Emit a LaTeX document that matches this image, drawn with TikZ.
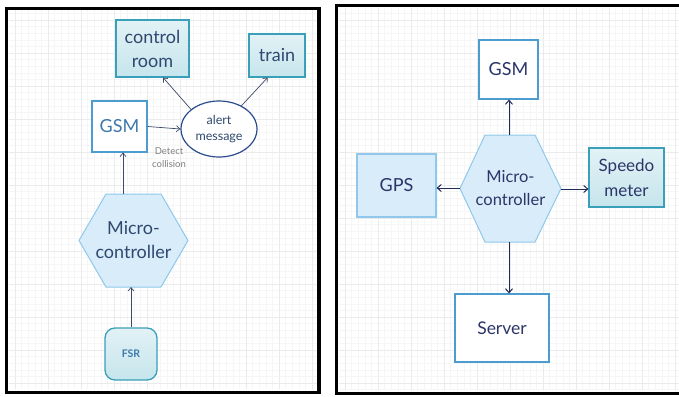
\documentclass[tikz,border=0pt]{standalone}
\usepackage{fontspec}
\setmainfont{Lato}
\usetikzlibrary{arrows.meta,shapes.geometric}
\definecolor{gminor}{HTML}{F6F6F6}
\definecolor{gmajor}{HTML}{EBEBEB}
\definecolor{tealline}{HTML}{3A9FB8}
\definecolor{tealtop}{HTML}{E2F2F6}
\definecolor{tealbot}{HTML}{C6E5EC}
\definecolor{skyline}{HTML}{8FC8EC}
\definecolor{skyfill}{HTML}{D8EDF9}
\definecolor{boxline}{HTML}{4C9CCF}
\definecolor{slate}{HTML}{2E4870}
\definecolor{midblue}{HTML}{3C79AD}
\definecolor{navy}{HTML}{2C3568}
\definecolor{ellline}{HTML}{2B4B8F}
\definecolor{arrL}{HTML}{3D4A66}
\definecolor{arrR}{HTML}{1F2A55}
\tikzset{
  txt/.style={font=\fontsize{18}{24}\selectfont, align=center, inner sep=0pt},
  tealbox/.style={txt, draw=tealline, line width=1.1pt, top color=tealtop, bottom color=tealbot, text=slate},
  whitebox/.style={txt, draw=boxline, line width=1.1pt, fill=white},
  skybox/.style={txt, draw=skyline, line width=1.1pt, fill=skyfill, text=navy},
  hexshape/.style={draw=skyline, line width=1pt, fill=skyfill},
  arrowL/.style={draw=arrL, line width=0.7pt, -{Straight Barb[length=3.5pt,width=6pt]}},
  arrowR/.style={draw=arrR, line width=1pt, -{Straight Barb[length=4pt,width=7pt]}},
}
\begin{document}
\begin{tikzpicture}[x=1pt,y=-1pt]
\useasboundingbox (0,0) rectangle (679,396);
\fill[white] (0,0) rectangle (679,396);

% background grid inside both panels
\begin{scope}
  \clip (9,10) rectangle (317,389) (339,8) rectangle (679,390);
  \foreach \k in {-3,...,104} {
    \draw[gminor, line width=0.4pt] ({15+6.6*\k},0) -- ++(0,396);
    \draw[gminor, line width=0.4pt] (0,{20+6.6*\k}) -- ++(679,0);
  }
  \foreach \k in {-1,...,21} {
    \draw[gmajor, line width=0.5pt] ({15+33*\k},0) -- ++(0,396);
    \draw[gmajor, line width=0.5pt] (0,{20+33*\k}) -- ++(679,0);
  }
\end{scope}

% panel frames
\draw[black, line width=3.5pt] (6.5,8.5) rectangle (319,392.5);
\draw[black, line width=3.5pt] (679,5.5) -- (336.5,5.5) -- (336.5,393.5) -- (679,393.5);

% ---------------- left panel ----------------
\node[tealbox, minimum width=73pt, minimum height=57pt] (ctrl) at (152.5,48.5) {control\\room};
\node[tealbox, minimum width=56pt, minimum height=43pt] (train) at (277,55.5) {train};
\node[whitebox, text=midblue, minimum width=55pt, minimum height=51pt] (gsmL) at (119.5,126.5) {GSM};
\node[ellipse, draw=ellline, line width=1.2pt, fill=white, text=slate,
      font=\fontsize{12.5}{16}\selectfont, align=center, inner sep=0pt,
      minimum width=76pt, minimum height=56pt] (alert) at (219,129) {alert\\message};
\node[font=\fontsize{9.5}{12.5}\selectfont, text=gray, align=center, inner sep=0pt] (detect) at (169,157.5) {Detect\\collision};

\path[hexshape] (79,240.5) -- (106,194) -- (161,194) -- (188,240.5) -- (161,287) -- (106,287) -- cycle;
\node[txt, text=slate] (mcL) at (133.5,240.5) {Micro-\\controller};
\coordinate (mcLtop) at (123,194);
\coordinate (mcLbot) at (131,287);

\node[draw=tealline, line width=1.3pt, rounded corners=10pt, top color=tealtop, bottom color=tealbot,
      minimum width=52pt, minimum height=52pt, inner sep=0pt, text=midblue,
      font=\fontsize{10.5}{12}\selectfont\bfseries] (fsr) at (131,354) {FSR};

\draw[arrowL] (mcLtop) -- (mcLtop |- gsmL.south);
\draw[arrowL] (gsmL.east) -- (alert.west);
\draw[arrowL] (alert.145) -- (ctrl.-70);
\draw[arrowL] (alert.46) -- (train.-113);
\draw[arrowL] (fsr.north) -- (mcLbot);

% ---------------- right panel ----------------
\node[whitebox, text=navy, minimum width=59pt, minimum height=59pt] (gsmR) at (508.5,69.5) {GSM};
\node[skybox, minimum width=79pt, minimum height=63pt] (gps) at (396.5,185.5) {GPS};
\node[tealbox, text=navy, minimum width=75pt, minimum height=59pt,
      font=\fontsize{17}{25}\selectfont] (speedo) at (626.5,177.5) {Speedo\\meter};
\node[whitebox, text=navy, minimum width=94pt, minimum height=68pt,
      font=\fontsize{17.5}{22}\selectfont] (server) at (502,328) {Server};

\path[hexshape] (460,188.5) -- (485,135) -- (535,135) -- (561,188.5) -- (535,242) -- (485,242) -- cycle;
\node[txt, text=navy, font=\fontsize{16.5}{23}\selectfont] (mcR) at (510.5,188.5) {Micro-\\controller};
\coordinate (mcRtop) at (509,135);
\coordinate (mcRbot) at (509,242);
\coordinate (mcRleft) at (460,188);
\coordinate (mcRright) at (561,189);

\draw[arrowR] (mcRtop) -- (mcRtop |- gsmR.south);
\draw[arrowR] (mcRleft) -- (mcRleft -| gps.east);
\draw[arrowR] (mcRright) -- (mcRright -| speedo.west);
\draw[arrowR] (mcRbot) -- (mcRbot |- server.north);
\end{tikzpicture}
\end{document}
